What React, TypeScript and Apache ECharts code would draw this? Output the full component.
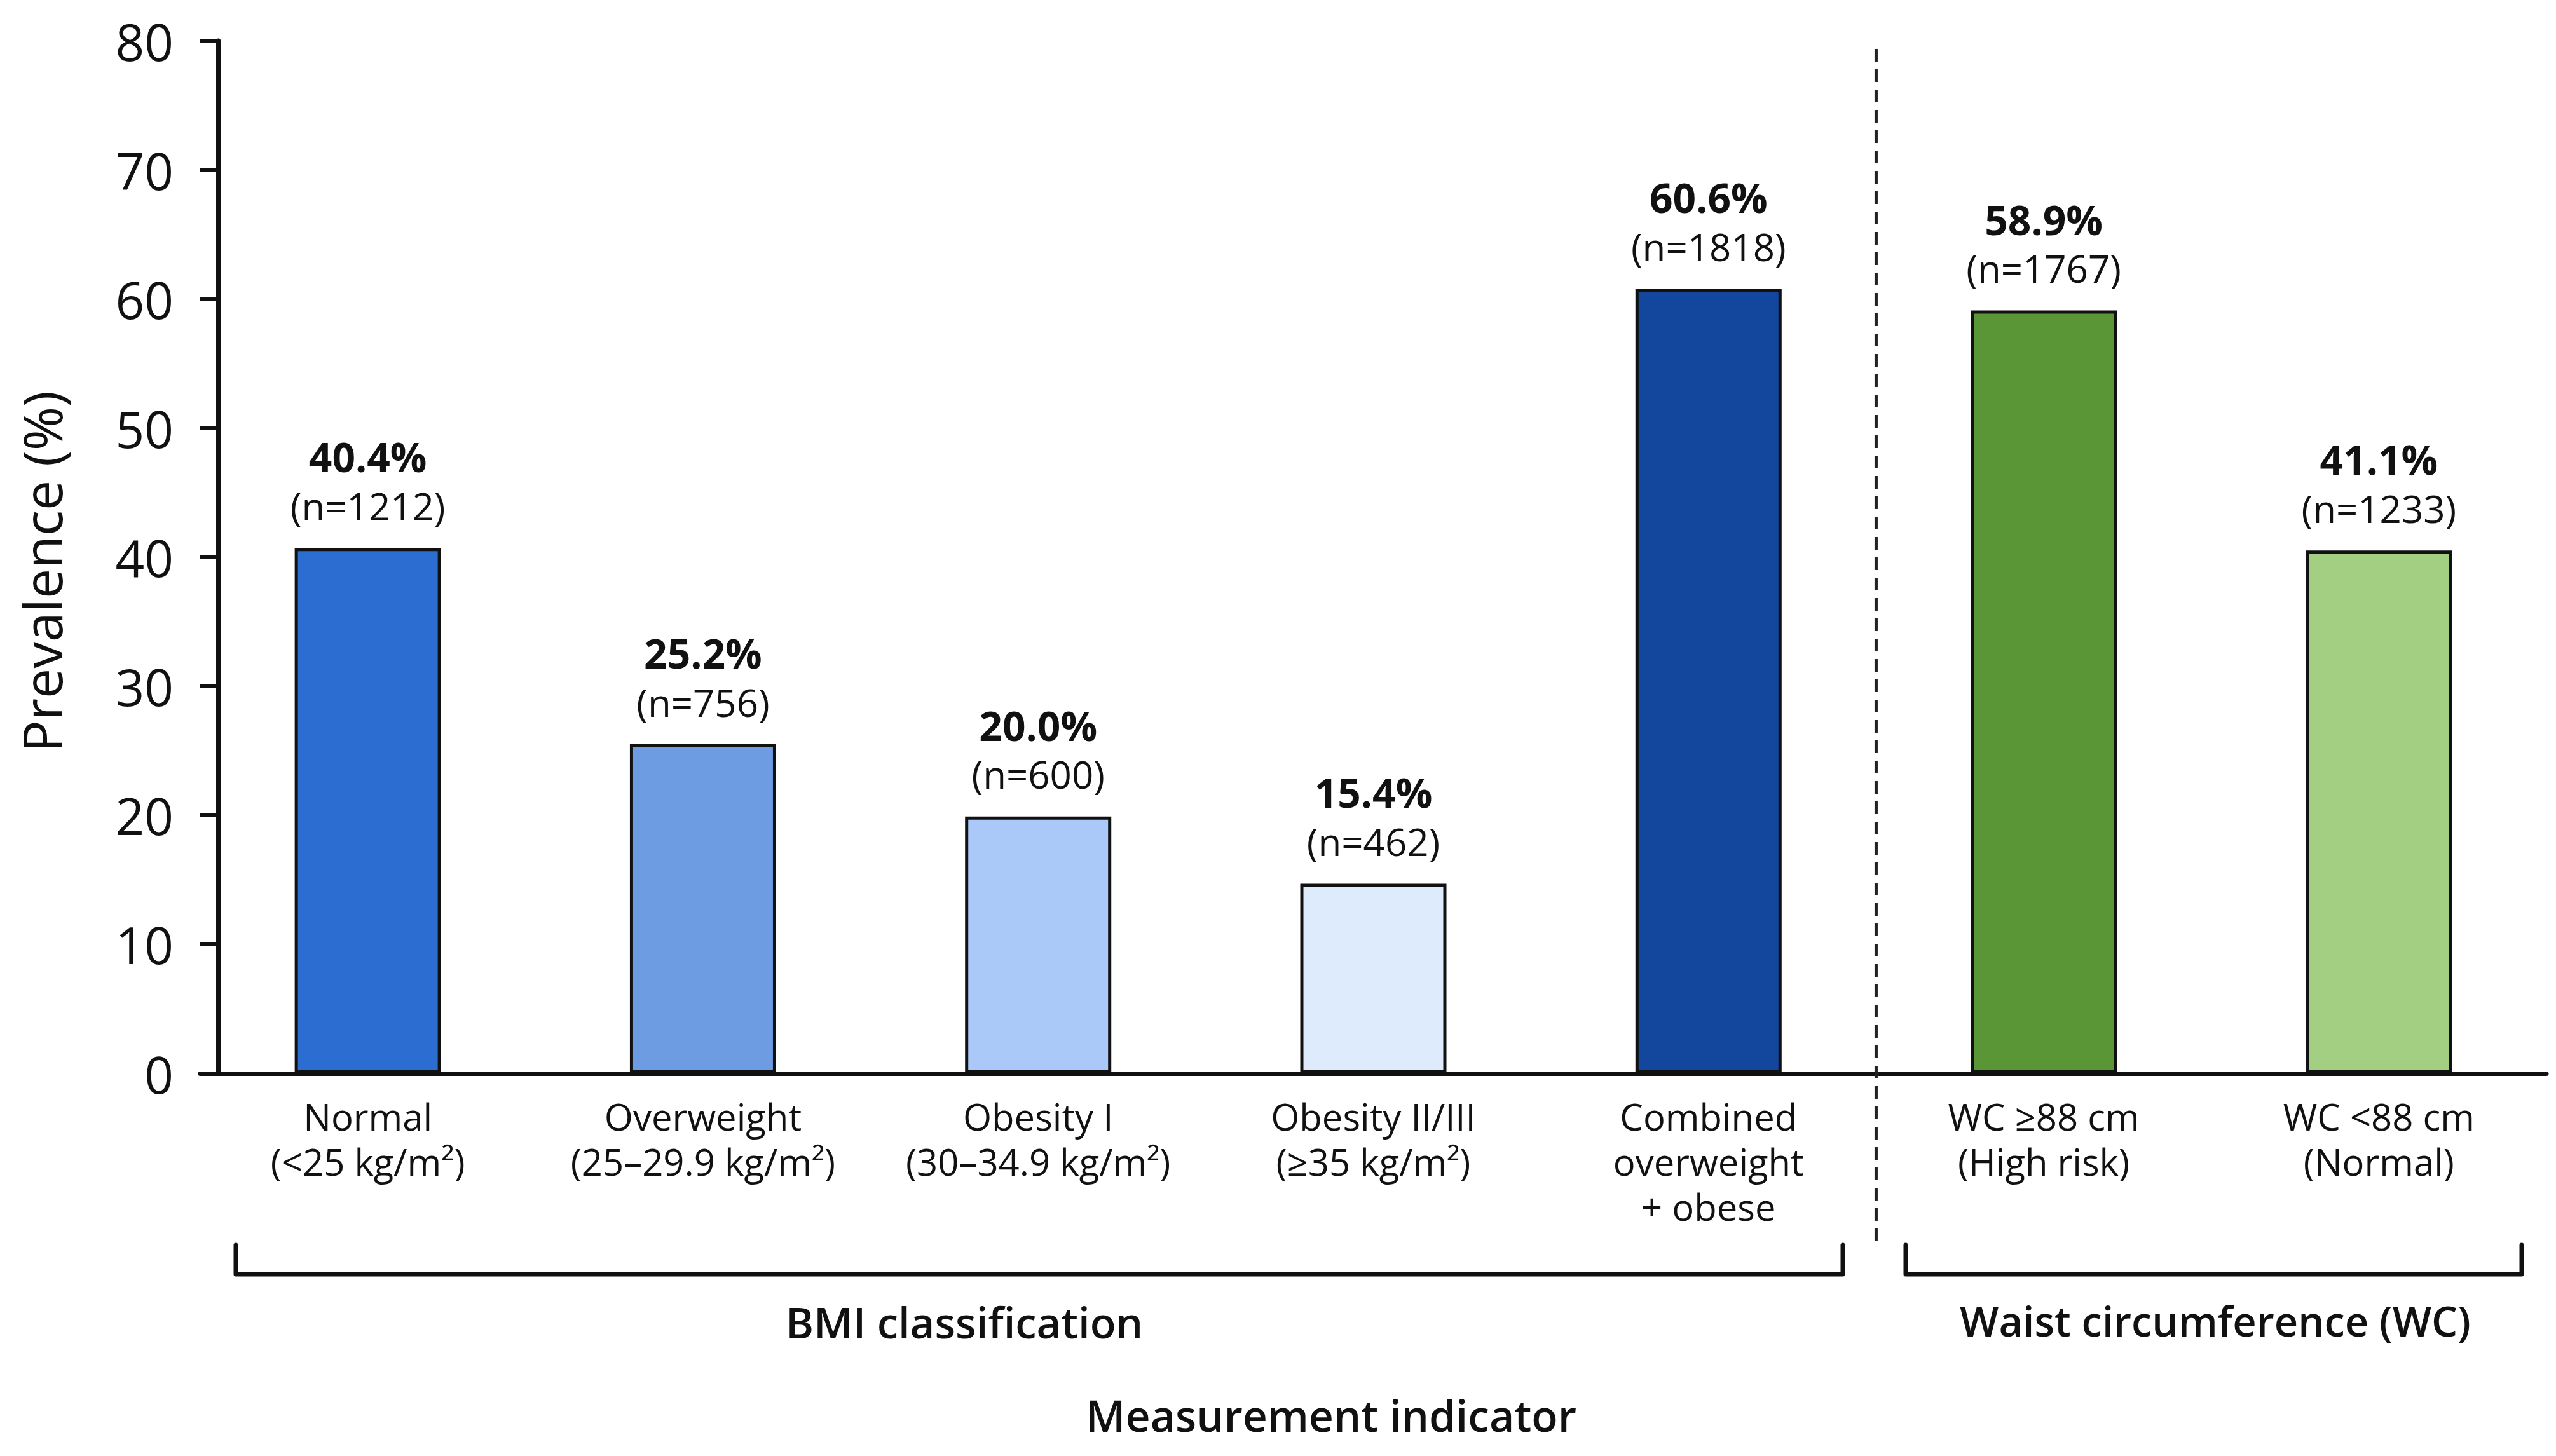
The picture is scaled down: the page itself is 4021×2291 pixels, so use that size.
import React, { useEffect, useRef } from 'react';
import * as echarts from 'echarts';

const categories = [
  'Normal\n(<25 kg/m²)',
  'Overweight\n(25–29.9 kg/m²)',
  'Obesity I\n(30–34.9 kg/m²)',
  'Obesity II/III\n(≥35 kg/m²)',
  'Combined\noverweight\n+ obese',
  'WC ≥88 cm\n(High risk)',
  'WC <88 cm\n(Normal)',
];
const barValues = [40.7, 25.5, 19.9, 14.7, 60.8, 59.1, 40.5];
const percentLabels = ['40.4%', '25.2%', '20.0%', '15.4%', '60.6%', '58.9%', '41.1%'];
const countLabels = ['(n=1212)', '(n=756)', '(n=600)', '(n=462)', '(n=1818)', '(n=1767)', '(n=1233)'];
const barColors = ['#2B6DD1', '#6E9CE3', '#AAC9F8', '#DDEBFC', '#12479D', '#5A9636', '#A3CF83'];
const yMin = 0;
const yMax = 80;
const yInterval = 10;
const groupLabels = ['BMI classification', 'Waist circumference (WC)'];
const xAxisTitle = 'Measurement indicator';
const yAxisTitle = 'Prevalence (%)';

const W = 4021;
const H = 2291;
const FONT = "'Open Sans', 'Noto Sans', sans-serif";
const INK = '#111111';

export default function App() {
  const ref = useRef<HTMLDivElement>(null);
  useEffect(() => {
    document.body.style.margin = '0';
    if (!ref.current) return;
    const chart = echarts.init(ref.current, null, { renderer: 'svg' });

    const gridLeft = 315;
    const gridRight = 15;
    const gridTop = 64;
    const gridBottom = 602;
    const plotW = W - gridLeft - gridRight;
    const band = plotW / categories.length;
    const dividerX = gridLeft + 5 * band;

    const bracketTop = 1959;
    const bracketBottom = 2005;

    chart.setOption({
      animation: false,
      backgroundColor: '#ffffff',
      textStyle: { fontFamily: FONT, color: INK },
      grid: { left: gridLeft, right: gridRight, top: gridTop, bottom: gridBottom, containLabel: false },
      xAxis: {
        type: 'category',
        data: categories,
        axisLine: { show: true, lineStyle: { color: INK, width: 7 } },
        axisTick: { show: false },
        axisLabel: {
          interval: 0,
          fontSize: 58,
          lineHeight: 71,
          margin: 32,
          color: INK,
          fontFamily: FONT,
        },
        splitLine: { show: false },
      },
      yAxis: {
        type: 'value',
        min: yMin,
        max: yMax,
        interval: yInterval,
        offset: -28,
        name: yAxisTitle,
        nameLocation: 'middle',
        nameRotate: 90,
        nameGap: 236,
        nameTextStyle: {
          fontSize: 84,
          color: INK,
          fontFamily: FONT,
          fontWeight: 500,
          padding: [0, 46, 0, 0],
        },
        axisLine: { show: true, lineStyle: { color: INK, width: 7 } },
        axisTick: { show: true, inside: false, length: 28, lineStyle: { color: INK, width: 6 } },
        axisLabel: { fontSize: 80, margin: 70, color: INK, fontFamily: FONT, fontWeight: 500 },
        splitLine: { show: false },
      },
      series: [
        {
          type: 'bar',
          barWidth: 230,
          data: barValues.map((v, i) => ({
            value: v,
            itemStyle: { color: barColors[i], borderColor: INK, borderWidth: 5 },
          })),
          label: {
            show: true,
            position: 'top',
            distance: 28,
            formatter: (p: any) => `{p|${percentLabels[p.dataIndex]}}\n{n|${countLabels[p.dataIndex]}}`,
            rich: {
              p: { fontSize: 64, fontWeight: 'bold', lineHeight: 77, color: INK, fontFamily: FONT },
              n: { fontSize: 60, lineHeight: 77, color: INK, fontFamily: FONT },
            },
          },
        },
      ],
      graphic: [
        {
          type: 'line',
          shape: { x1: dividerX, y1: 77, x2: dividerX, y2: 1952 },
          style: { stroke: '#222', lineWidth: 5, lineDash: [20, 12] },
          z: 1,
        },
        {
          type: 'polyline',
          shape: {
            points: [
              [371, bracketTop],
              [371, bracketBottom],
              [2899, bracketBottom],
              [2899, bracketTop],
            ],
          },
          style: { stroke: INK, lineWidth: 7, fill: 'none', lineJoin: 'round', lineCap: 'round' },
        },
        {
          type: 'polyline',
          shape: {
            points: [
              [2998, bracketTop],
              [2998, bracketBottom],
              [3967, bracketBottom],
              [3967, bracketTop],
            ],
          },
          style: { stroke: INK, lineWidth: 7, fill: 'none', lineJoin: 'round', lineCap: 'round' },
        },
        {
          type: 'text',
          x: 1517,
          y: 2080,
          style: {
            text: groupLabels[0],
            fontSize: 67,
            fontWeight: 600,
            fontFamily: FONT,
            fill: INK,
            align: 'center',
            verticalAlign: 'middle',
          },
        },
        {
          type: 'text',
          x: 3485,
          y: 2078,
          style: {
            text: groupLabels[1],
            fontSize: 65,
            fontWeight: 600,
            fontFamily: FONT,
            fill: INK,
            align: 'center',
            verticalAlign: 'middle',
          },
        },
        {
          type: 'text',
          x: 2094,
          y: 2226,
          style: {
            text: xAxisTitle,
            fontSize: 68,
            fontWeight: 600,
            fontFamily: FONT,
            fill: INK,
            align: 'center',
            verticalAlign: 'middle',
          },
        },
      ],
    });

    return () => chart.dispose();
  }, []);

  return <div ref={ref} style={{ width: W, height: H }} />;
}
